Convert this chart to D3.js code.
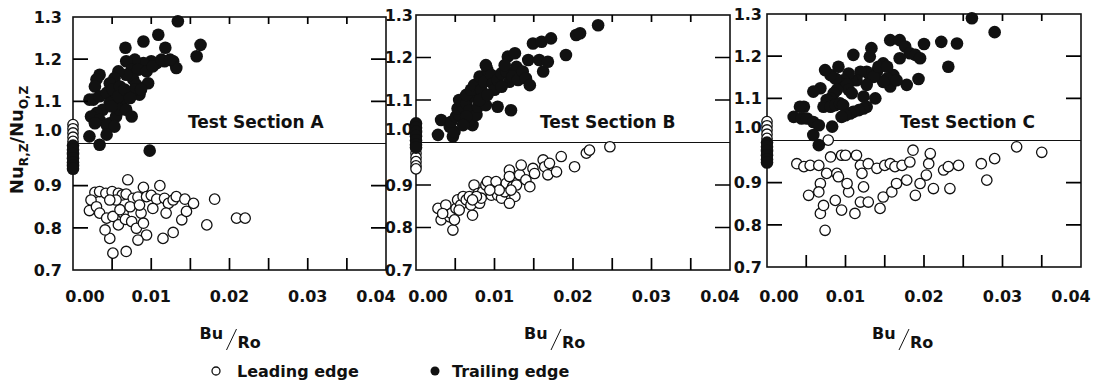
<!DOCTYPE html>
<html>
<head>
<meta charset="utf-8">
<script src="https://cdn.jsdelivr.net/npm/d3@7"></script>
<style>
    body { margin: 0; background: #fff; }
    text { font-family: "DejaVu Sans", sans-serif; font-weight: bold; fill: #111; }
</style>
</head>
<body>
<svg id="chart" width="1107" height="386"></svg>
<script>
// values
const sectionNames = ['Test Section A', 'Test Section B', 'Test Section C'];
const xTickValues = [0.005, 0.01, 0.015, 0.02, 0.025, 0.03, 0.035];
const xLabelValues = [0, 0.01, 0.02, 0.03, 0.04];
const yTickValues = [0.8, 0.9, 1.1, 1.2];
const yLabelValues = [0.7, 0.8, 0.9, 1.0, 1.1, 1.2, 1.3];
const legendLabels = ['Leading edge', 'Trailing edge'];

const leadingA = [
    [0, 1.045], [0, 1.035], [0, 1.025], [0, 1.015], [0, 1.005],
    [0.0070, 0.914], [0.0021, 0.841], [0.0028, 0.884], [0.0034, 0.886], [0.0042, 0.882],
    [0.0050, 0.886], [0.0058, 0.882], [0.0063, 0.878], [0.0068, 0.880], [0.0077, 0.870],
    [0.0083, 0.873], [0.0090, 0.896], [0.0094, 0.874], [0.0100, 0.877], [0.0107, 0.868],
    [0.0111, 0.900], [0.0117, 0.870], [0.0122, 0.858], [0.0128, 0.866], [0.0132, 0.874],
    [0.0143, 0.868], [0.0154, 0.858], [0.0181, 0.868], [0.0023, 0.866], [0.0030, 0.850],
    [0.0034, 0.835], [0.0043, 0.823], [0.0051, 0.827], [0.0058, 0.807], [0.0064, 0.835],
    [0.0067, 0.820], [0.0075, 0.815], [0.0081, 0.799], [0.0087, 0.835], [0.0090, 0.811],
    [0.0094, 0.783], [0.0083, 0.771], [0.0115, 0.775], [0.0128, 0.789], [0.0139, 0.819],
    [0.0145, 0.839], [0.0119, 0.835], [0.0171, 0.807], [0.0209, 0.823], [0.0220, 0.823],
    [0.0051, 0.740], [0.0068, 0.744], [0.0047, 0.775], [0.0041, 0.795], [0.0060, 0.843],
    [0.0073, 0.850], [0.0085, 0.854], [0.0102, 0.846], [0.0055, 0.866], [0.0047, 0.866]
];
const trailingA = [
    [0, 0.995], [0, 0.985], [0, 0.975], [0, 0.965], [0, 0.955], [0, 0.947], [0, 0.940],
    [0.0067, 1.227], [0.0090, 1.242], [0.0109, 1.258], [0.0118, 1.227], [0.0134, 1.290],
    [0.0163, 1.234], [0.0158, 1.207], [0.0128, 1.195], [0.0132, 1.179], [0.0117, 1.195],
    [0.0107, 1.191], [0.0100, 1.195], [0.0090, 1.191], [0.0079, 1.199], [0.0068, 1.195],
    [0.0075, 1.175], [0.0083, 1.175], [0.0094, 1.171], [0.0102, 1.183], [0.0096, 1.143],
    [0.0077, 1.152], [0.0081, 1.139], [0.0068, 1.163], [0.0058, 1.171], [0.0053, 1.155],
    [0.0047, 1.143], [0.0034, 1.163], [0.0030, 1.152], [0.0028, 1.135], [0.0021, 1.104],
    [0.0026, 1.104], [0.0034, 1.112], [0.0043, 1.120], [0.0051, 1.128], [0.0060, 1.135],
    [0.0064, 1.104], [0.0055, 1.104], [0.0047, 1.096], [0.0038, 1.080], [0.0030, 1.072],
    [0.0023, 1.064], [0.0034, 1.056], [0.0047, 1.048], [0.0055, 1.064], [0.0060, 1.080],
    [0.0068, 1.080], [0.0075, 1.064], [0.0085, 1.116], [0.0079, 1.128], [0.0043, 1.044],
    [0.0053, 1.040], [0.0021, 1.017], [0.0034, 0.997], [0.0043, 1.021], [0.0098, 0.983],
    [0.0028, 1.048], [0.0049, 1.088], [0.0058, 1.112], [0.0066, 1.128], [0.0073, 1.108],
    [0.0087, 1.128], [0.0113, 1.199], [0.0124, 1.199]
];

const leadingB = [
    [0, 0.975], [0, 0.965], [0, 0.955], [0, 0.945], [0, 0.938],
    [0.0028, 0.845], [0.0032, 0.818], [0.0038, 0.853], [0.0043, 0.825], [0.0047, 0.794],
    [0.0045, 0.833], [0.0051, 0.845], [0.0053, 0.865], [0.0057, 0.853], [0.0060, 0.873],
    [0.0064, 0.865], [0.0068, 0.873], [0.0072, 0.829], [0.0070, 0.853], [0.0074, 0.900],
    [0.0079, 0.880], [0.0081, 0.857], [0.0085, 0.884], [0.0089, 0.900], [0.0091, 0.908],
    [0.0096, 0.876], [0.0100, 0.892], [0.0102, 0.908], [0.0104, 0.876], [0.0109, 0.869],
    [0.0113, 0.884], [0.0115, 0.904], [0.0119, 0.935], [0.0119, 0.920], [0.0123, 0.896],
    [0.0126, 0.873], [0.0119, 0.857], [0.0128, 0.900], [0.0132, 0.924], [0.0134, 0.947],
    [0.0140, 0.912], [0.0145, 0.896], [0.0149, 0.939], [0.0151, 0.927], [0.0162, 0.959],
    [0.0164, 0.943], [0.0168, 0.924], [0.0170, 0.951], [0.0179, 0.931], [0.0185, 0.967],
    [0.0202, 0.943], [0.0217, 0.975], [0.0221, 0.982], [0.0247, 0.990], [0.0106, 0.888],
    [0.0094, 0.888], [0.0083, 0.869], [0.0077, 0.873], [0.0121, 0.888], [0.0055, 0.841],
    [0.0072, 0.865], [0.0049, 0.818], [0.0034, 0.833]
];
const trailingB = [
    [0, 1.045], [0, 1.035], [0, 1.025], [0, 1.015], [0, 1.005], [0, 0.995], [0, 0.988],
    [0.0028, 1.018], [0.0032, 1.053], [0.0043, 1.037], [0.0047, 1.014], [0.0049, 1.025],
    [0.0045, 1.049], [0.0051, 1.061], [0.0055, 1.065], [0.0053, 1.080], [0.0060, 1.084],
    [0.0055, 1.100], [0.0064, 1.092], [0.0068, 1.076], [0.0072, 1.041], [0.0068, 1.053],
    [0.0077, 1.065], [0.0079, 1.084], [0.0074, 1.108], [0.0064, 1.112], [0.0070, 1.124],
    [0.0074, 1.135], [0.0083, 1.124], [0.0081, 1.155], [0.0087, 1.143], [0.0091, 1.171],
    [0.0089, 1.182], [0.0096, 1.159], [0.0098, 1.139], [0.0100, 1.124], [0.0104, 1.147],
    [0.0109, 1.163], [0.0115, 1.167], [0.0119, 1.143], [0.0117, 1.202], [0.0126, 1.210],
    [0.0128, 1.178], [0.0123, 1.155], [0.0130, 1.147], [0.0136, 1.167], [0.0140, 1.151],
    [0.0143, 1.194], [0.0145, 1.135], [0.0149, 1.233], [0.0160, 1.237], [0.0157, 1.194],
    [0.0162, 1.167], [0.0168, 1.190], [0.0172, 1.245], [0.0191, 1.206], [0.0204, 1.253],
    [0.0209, 1.257], [0.0232, 1.276], [0.0121, 1.076], [0.0104, 1.084], [0.0089, 1.088],
    [0.0064, 1.061], [0.0060, 1.041], [0.0081, 1.100], [0.0091, 1.112], [0.0109, 1.131],
    [0.0113, 1.182]
];

const leadingC = [
    [0, 1.045], [0, 1.035], [0, 1.025], [0, 1.015], [0, 1.005],
    [0.0038, 0.945], [0.0047, 0.938], [0.0055, 0.941], [0.0066, 0.941], [0.0068, 0.898],
    [0.0066, 0.878], [0.0053, 0.870], [0.0068, 0.827], [0.0072, 0.846], [0.0074, 0.787],
    [0.0076, 0.922], [0.0078, 1.001], [0.0081, 0.961], [0.0087, 0.858], [0.0089, 0.922],
    [0.0091, 0.914], [0.0095, 0.965], [0.0100, 0.965], [0.0095, 0.835], [0.0104, 0.878],
    [0.0102, 0.898], [0.0114, 0.965], [0.0119, 0.941], [0.0121, 0.922], [0.0123, 0.890],
    [0.0129, 0.945], [0.0119, 0.854], [0.0112, 0.827], [0.0129, 0.854], [0.0140, 0.934],
    [0.0144, 0.839], [0.0148, 0.866], [0.0150, 0.941], [0.0159, 0.878], [0.0157, 0.945],
    [0.0163, 0.938], [0.0165, 0.898], [0.0172, 0.941], [0.0178, 0.906], [0.0182, 0.949],
    [0.0186, 0.977], [0.0189, 0.870], [0.0195, 0.898], [0.0203, 0.918], [0.0206, 0.945],
    [0.0208, 0.969], [0.0212, 0.886], [0.0225, 0.930], [0.0231, 0.938], [0.0233, 0.886],
    [0.0244, 0.941], [0.0273, 0.945], [0.0280, 0.906], [0.0290, 0.957], [0.0318, 0.985],
    [0.0350, 0.972]
];
const trailingC = [
    [0, 0.995], [0, 0.985], [0, 0.975], [0, 0.965], [0, 0.955], [0, 0.948],
    [0.0261, 1.290], [0.0290, 1.257], [0.0242, 1.230], [0.0222, 1.234], [0.0200, 1.229],
    [0.0157, 1.238], [0.0169, 1.238], [0.0176, 1.223], [0.0182, 1.207], [0.0189, 1.203],
    [0.0195, 1.195], [0.0169, 1.195], [0.0148, 1.183], [0.0133, 1.219], [0.0131, 1.199],
    [0.0110, 1.203], [0.0231, 1.175], [0.0193, 1.146], [0.0178, 1.132], [0.0157, 1.128],
    [0.0161, 1.155], [0.0153, 1.147], [0.0148, 1.139], [0.0140, 1.163], [0.0131, 1.155],
    [0.0127, 1.163], [0.0119, 1.163], [0.0114, 1.143], [0.0108, 1.143], [0.0104, 1.159],
    [0.0097, 1.143], [0.0093, 1.135], [0.0087, 1.147], [0.0081, 1.155], [0.0074, 1.167],
    [0.0102, 1.132], [0.0104, 1.120], [0.0108, 1.112], [0.0089, 1.120], [0.0085, 1.112],
    [0.0081, 1.100], [0.0076, 1.096], [0.0072, 1.080], [0.0081, 1.080], [0.0087, 1.084],
    [0.0093, 1.088], [0.0097, 1.084], [0.0123, 1.104], [0.0138, 1.100], [0.0127, 1.080],
    [0.0123, 1.076], [0.0117, 1.072], [0.0110, 1.068], [0.0106, 1.064], [0.0100, 1.060],
    [0.0095, 1.056], [0.0068, 1.124], [0.0059, 1.116], [0.0047, 1.080], [0.0042, 1.080],
    [0.0034, 1.056], [0.0044, 1.052], [0.0051, 1.052], [0.0059, 1.044], [0.0066, 1.036],
    [0.0083, 1.033], [0.0059, 1.013], [0.0066, 0.989], [0.0136, 1.151], [0.0142, 1.175],
    [0.0127, 1.132], [0.0153, 1.175], [0.0165, 1.143], [0.0091, 1.175]
];

// panel frames (pixels) follow the slightly uneven scan
const panels = [
    { name: sectionNames[0], leading: leadingA, trailing: trailingA, left: 73, right: 386, top: 17, bottom: 270, gap: 11, titleShift: 0, nameX: 188 },
    { name: sectionNames[1], leading: leadingB, trailing: trailingB, left: 416, right: 730, top: 15, bottom: 270, gap: 3, titleShift: -19, nameX: 540 },
    { name: sectionNames[2], leading: leadingC, trailing: trailingC, left: 767, right: 1081, top: 14, bottom: 267, gap: 5, titleShift: -22, nameX: 900 }
];

const INK = '#111';
const svg = d3.select('#chart');

panels.forEach(p => {
    const x = d3.scaleLinear().domain([0, 0.04]).range([p.left, p.right]);
    const y = d3.scaleLinear().domain([0.7, 1.3]).range([p.bottom, p.top]);
    const g = svg.append('g');

    // y tick labels, the 1.0 label sits above the reference line
    g.append('g').selectAll('text')
        .data(yLabelValues)
        .enter()
        .append('text')
        .attr('x', p.left - p.gap)
        .attr('y', d => y(d) + (d === 1.0 ? -13 : 0))
        .attr('dy', '0.36em')
        .attr('text-anchor', 'end')
        .attr('font-size', 16)
        .text(d => d.toFixed(1));

    // x tick labels, end labels kept inside the frame
    g.append('g').selectAll('text')
        .data(xLabelValues)
        .enter()
        .append('text')
        .attr('x', d => Math.min(Math.max(x(d), p.left + 12), p.right - 10))
        .attr('y', 302)
        .attr('text-anchor', 'middle')
        .attr('font-size', 16)
        .text(d => d.toFixed(2));

    // frame and reference line at 1.0
    g.append('rect')
        .attr('x', p.left).attr('y', p.top)
        .attr('width', p.right - p.left).attr('height', p.bottom - p.top)
        .attr('fill', 'none').attr('stroke', INK).attr('stroke-width', 1.6);
    g.append('line')
        .attr('x1', p.left).attr('x2', p.right)
        .attr('y1', y(1.0)).attr('y2', y(1.0))
        .attr('stroke', INK).attr('stroke-width', 1.2);

    g.append('text')
        .attr('x', p.nameX).attr('y', 128)
        .attr('font-size', 17)
        .text(p.name);

    // points
    g.append('g').selectAll('circle')
        .data(p.leading)
        .enter()
        .append('circle')
        .attr('cx', d => x(d[0]))
        .attr('cy', d => y(d[1]))
        .attr('r', 5.2)
        .attr('fill', '#fff')
        .attr('stroke', INK)
        .attr('stroke-width', 1.3);
    g.append('g').selectAll('circle')
        .data(p.trailing)
        .enter()
        .append('circle')
        .attr('cx', d => x(d[0]))
        .attr('cy', d => y(d[1]))
        .attr('r', 6.3)
        .attr('fill', INK);

    // inward ticks: long at the bottom and sides, short at the top
    const tickPath = d3.path();
    xTickValues.forEach(v => {
        tickPath.moveTo(x(v), p.bottom); tickPath.lineTo(x(v), p.bottom - 12);
        tickPath.moveTo(x(v), p.top); tickPath.lineTo(x(v), p.top + 7);
    });
    yTickValues.forEach(v => {
        tickPath.moveTo(p.left, y(v)); tickPath.lineTo(p.left + 15, y(v));
        tickPath.moveTo(p.right, y(v)); tickPath.lineTo(p.right - 15, y(v));
    });
    g.append('path')
        .attr('d', tickPath.toString())
        .attr('fill', 'none')
        .attr('stroke', '#000')
        .attr('stroke-width', 1.7);

    // x title: Bu / Ro
    const cx = (p.left + p.right) / 2 + p.titleShift;
    g.append('text').attr('x', cx - 30).attr('y', 339).attr('font-size', 16).text('Bu');
    g.append('line')
        .attr('x1', cx - 3).attr('y1', 350).attr('x2', cx + 7).attr('y2', 329)
        .attr('stroke', INK).attr('stroke-width', 1);
    g.append('text').attr('x', cx + 8).attr('y', 348).attr('font-size', 16).text('Ro');
});

// y title
const yTitle = svg.append('text')
    .attr('transform', 'translate(23,140) rotate(-90)')
    .attr('text-anchor', 'middle')
    .attr('font-size', 18);
yTitle.append('tspan').text('Nu');
yTitle.append('tspan').attr('font-size', 12).attr('dy', 5).text('R,Z');
yTitle.append('tspan').attr('dy', -5).text('/Nu');
yTitle.append('tspan').attr('font-size', 12).attr('dy', 5).text('O,Z');

// legend
const legend = svg.append('g').attr('transform', 'translate(0,371)');
legend.append('circle').attr('cx', 216).attr('cy', 0).attr('r', 4)
    .attr('fill', '#fff').attr('stroke', INK).attr('stroke-width', 1.3);
legend.append('text').attr('x', 237).attr('y', 6).attr('font-size', 16).text(legendLabels[0]);
legend.append('circle').attr('cx', 435).attr('cy', 0).attr('r', 4.5).attr('fill', INK);
legend.append('text').attr('x', 452).attr('y', 6).attr('font-size', 16).text(legendLabels[1]);
</script>
</body>
</html>
